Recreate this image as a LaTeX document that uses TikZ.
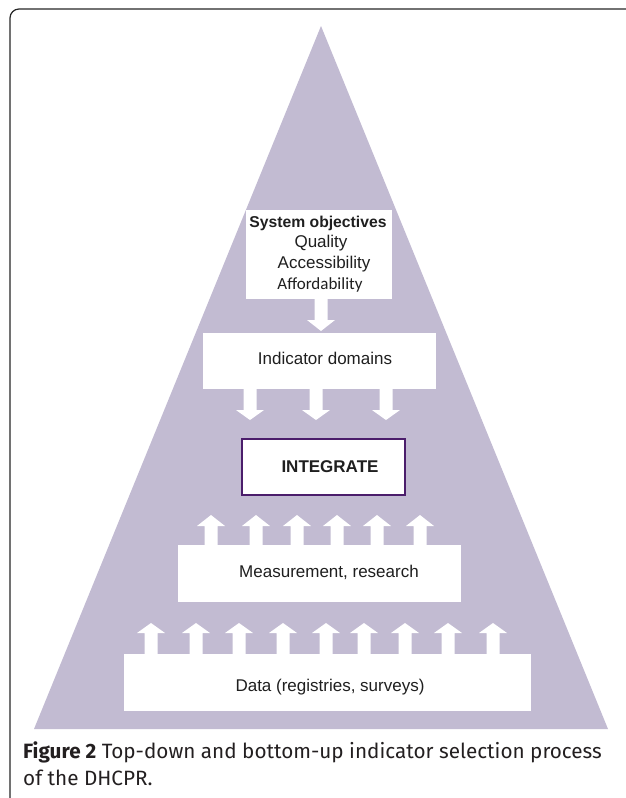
\documentclass[tikz,border=0pt]{standalone}
\usepackage{fontspec}
\setmainfont{Liberation Sans}
\newfontfamily\calib{Carlito}
\newfontfamily\capfont{Fira Sans}
\definecolor{tri}{RGB}{194,187,210}
\definecolor{intb}{RGB}{75,29,107}
\definecolor{capc}{RGB}{35,31,32}
\newcommand\blkup[4]{% x, tip y, head base y, tail y
  \fill[white] (#1-6.5,#4) -- (#1-6.5,#3) -- (#1-14,#3) -- (#1,#2) -- (#1+14,#3) -- (#1+6.5,#3) -- (#1+6.5,#4) -- cycle;}
\newcommand\blkdown[4]{% x, tail y, head base y, tip y
  \fill[white] (#1-6.5,#2) -- (#1-6.5,#3) -- (#1-14,#3) -- (#1,#4) -- (#1+14,#3) -- (#1+6.5,#3) -- (#1+6.5,#2) -- cycle;}
\tikzset{
  wbox/.style={fill=white, draw=none},
  lbl/.style={inner sep=0pt, font=\fontsize{17}{20}\selectfont, text=black!88},
  caplbl/.style={anchor=base west, inner sep=0pt, text=capc, font=\capfont\fontsize{20.7}{24}\selectfont},
}
\begin{document}
\begin{tikzpicture}[x=1pt,y=-1pt]
\useasboundingbox (0,0) rectangle (625,798);
% frame
\draw[line width=1.2pt, black!85, rounded corners=9pt] (10,798) -- (10,9) -- (626,9);
% triangle
\fill[tri] (321,26) -- (608,729) -- (34,729) -- cycle;
% boxes
\fill[wbox] (246,210) rectangle (392,299);
\fill[wbox] (203,333) rectangle (436,389);
\fill[wbox] (178,545) rectangle (461,602);
\fill[wbox] (124,654) rectangle (531,711);
\draw[intb, line width=2pt, fill=white] (242,439) rectangle (405,495);
% arrows
\blkdown{321}{298}{320}{331}
\foreach \x in {250,316,386} {\blkdown{\x}{388}{410}{420}}
\foreach \x in {211,256,297,337,377,420} {\blkup{\x}{515}{526}{546}}
\foreach \x in {151,196,239,283,326,364,405,448,493} {\blkup{\x}{623}{633}{655}}
% texts
\node[lbl, font=\bfseries\fontsize{15.7}{19}\selectfont] (so) at (318,223) {System objectives};
\node[lbl] (q) at (321,243) {Quality};
\node[lbl] (acc) at (324,264) {Accessibility};
\node[lbl, font=\calib\fontsize{17}{20}\selectfont] (aff) at (320,285) {Affordability};
\node[lbl] (ind) at (325,358) {Indicator domains};
\node[lbl, font=\bfseries\fontsize{17}{20}\selectfont] (int) at (330,467) {INTEGRATE};
\node[lbl] (meas) at (329,572) {Measurement, research};
\node[lbl] (data) at (330,687) {Data (registries, surveys)};
% caption
\node[caplbl] (cap1) at (23,758) {\textbf{Figure 2} Top-down and bottom-up indicator selection process};
\node[caplbl] (cap2) at (23,785) {of the DHCPR.};
\end{tikzpicture}
\end{document}
